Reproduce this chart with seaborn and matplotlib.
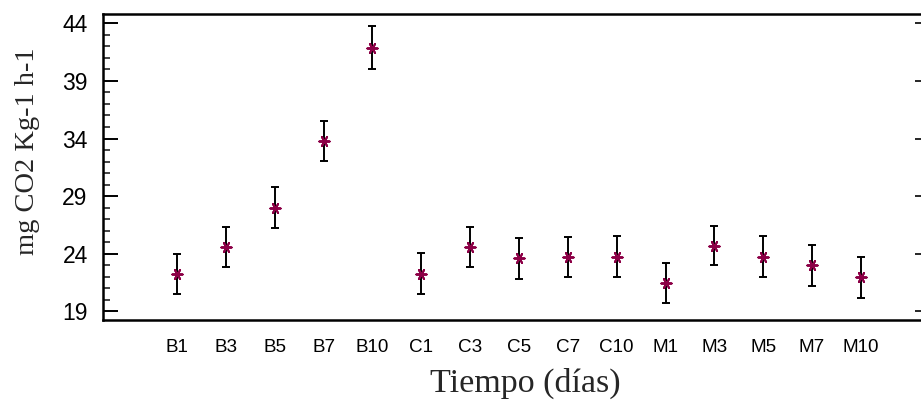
import numpy as np
import pandas as pd
import matplotlib
matplotlib.use("Agg")
import matplotlib.pyplot as plt
import seaborn as sns

# ---- data ----
categories = ["B1", "B3", "B5", "B7", "B10", "C1", "C3", "C5", "C7", "C10",
              "M1", "M3", "M5", "M7", "M10"]
means = [22.25, 24.6, 28.0, 33.8, 41.9, 22.25, 24.6, 23.6, 23.7, 23.75,
         21.45, 24.7, 23.75, 23.0, 21.95]
errors = [1.74, 1.72, 1.81, 1.75, 1.84, 1.78, 1.72, 1.80, 1.72, 1.80,
          1.74, 1.72, 1.80, 1.77, 1.77]
y_ticks = [19, 24, 29, 34, 39, 44]
x_label = "Tiempo (días)"
y_label = "mg CO2 Kg-1 h-1"

df = pd.DataFrame({"cat": categories, "mean": means, "err": errors})

sns.set_style("ticks")
plt.rcParams["font.family"] = ["Liberation Sans", "DejaVu Sans"]

W, H = 921, 404
fig = plt.figure(figsize=(W / 100, H / 100), dpi=100)
ax = fig.add_axes([103 / W, 1 - 320 / H, (922 - 103) / W, (320 - 14) / H])

pos = np.arange(len(categories))
ax.errorbar(pos, df["mean"], yerr=df["err"], fmt="none", ecolor="black",
            elinewidth=1.4, capsize=3, capthick=1.4, zorder=2)
sns.scatterplot(data=df, x="cat", y="mean", ax=ax, marker=(6, 2, 90),
                s=55, color="#8C0046", linewidth=1.4, edgecolor="#8C0046",
                zorder=3, legend=False)

ax.set_xlim(-1.515, 15.25)
ax.set_ylim(18.245, 44.81)
ax.set_xticks(pos)
ax.set_xticklabels(categories)
ax.set_yticks(y_ticks)
ax.set_yticklabels([str(t) for t in y_ticks])
ax.set_yticks(np.arange(19, 45, 1), minor=True)
ax.tick_params(axis="x", length=0, pad=14, colors="black", labelsize=13.6)
ax.tick_params(axis="y", which="major", direction="in", length=11, width=1.4,
               pad=11, left=True, right=False, colors="black", labelsize=16.5)
ax.tick_params(axis="y", which="minor", direction="in", length=5, width=1.2,
               left=True, right=False)
ax.set_xlabel("")
ax.set_ylabel("")
for sp in ax.spines.values():
    sp.set_linewidth(1.8)
    sp.set_color("black")

sec = ax.secondary_yaxis("right")
sec.set_yticks(y_ticks)
sec.tick_params(direction="in", length=5, width=1.4, labelright=False)
sec.spines["right"].set_linewidth(1.8)

fig.text(525 / W, 12 / H, x_label, ha="center", va="baseline",
         fontsize=24.5, family=["Liberation Serif", "DejaVu Serif"])
fig.text(27 / W, 1 - 151.5 / H, y_label, ha="center", va="center",
         rotation=90, fontsize=20.5, family=["Liberation Serif", "DejaVu Serif"])

fig.savefig("out.png", dpi=100)
